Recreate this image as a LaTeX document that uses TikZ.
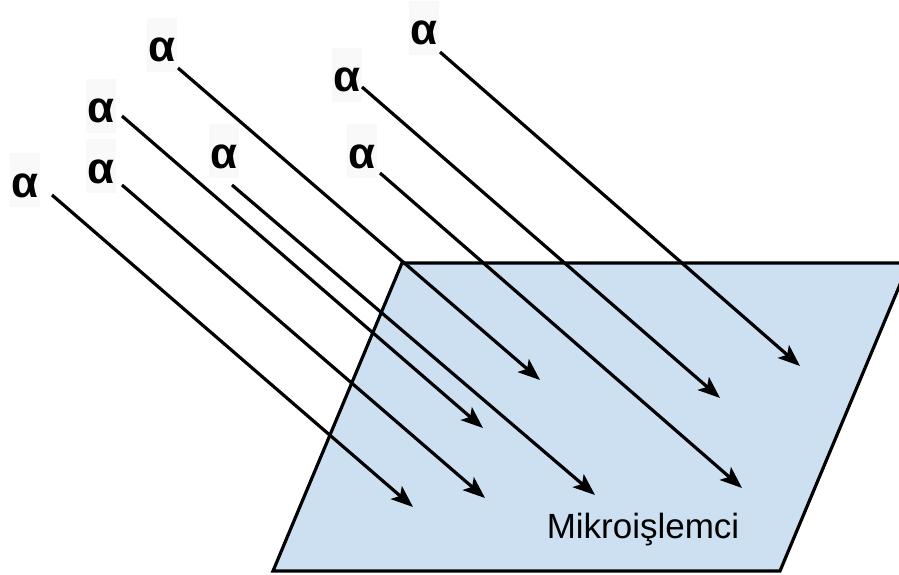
\documentclass[tikz,border=0pt]{standalone}
\usepackage{fontspec}
\setmainfont{Liberation Sans}
\usepackage{tikz}
\usetikzlibrary{arrows.meta}
\definecolor{chipblue}{RGB}{204,224,242}
\definecolor{lblgray}{RGB}{249,249,249}
\tikzset{
  alphalabel/.style={fill=lblgray, inner ysep=0pt, inner xsep=1pt,
    text height=44pt, text depth=10pt, anchor=base,
    font=\fontsize{44}{48}\selectfont\bfseries},
  ray/.style={-{Stealth[length=22pt, width=17pt, inset=5pt]}, line width=3.2pt, color=black},
  chip/.style={draw=black, fill=chipblue, line width=3.2pt, line join=miter}
}

\begin{document}
\begin{tikzpicture}[x=1pt, y=-1pt]
  \useasboundingbox (0,0) rectangle (899,575);

  % Chip surface
  \draw[chip] (402,263) -- (909,263) -- (780,571) -- (273,571) -- cycle;
  \node[anchor=base, font=\fontsize{35}{40}\selectfont] (chipname) at (643,538) {Mikroişlemci};

  % Labels
  \node[alphalabel] (a1) at (25,197) {α};
  \node[alphalabel] (a2) at (101,183) {α};
  \node[alphalabel] (a3) at (101,123) {α};
  \node[alphalabel] (a4) at (162,62) {α};
  \node[alphalabel] (a5) at (224,168) {α};
  \node[alphalabel] (a6) at (347,92) {α};
  \node[alphalabel] (a7) at (362,168) {α};
  \node[alphalabel] (a8) at (424,45) {α};

  % Ray ends
  \coordinate (s1) at (52,195);  \coordinate (t1) at (413,507);
  \coordinate (s2) at (122,185); \coordinate (t2) at (485,498);
  \coordinate (s3) at (122,116); \coordinate (t3) at (483,428);
  \coordinate (s4) at (178,68);  \coordinate (t4) at (540,380);
  \coordinate (s5) at (232,185); \coordinate (t5) at (595,495);
  \coordinate (s6) at (362,87);  \coordinate (t6) at (720,398);
  \coordinate (s7) at (380,173); \coordinate (t7) at (742,488);
  \coordinate (s8) at (440,52);  \coordinate (t8) at (800,366);

  % Rays
  \draw[ray] (s1) -- (t1);
  \draw[ray] (s2) -- (t2);
  \draw[ray] (s3) -- (t3);
  \draw[ray] (s4) -- (t4);
  \draw[ray] (s5) -- (t5);
  \draw[ray] (s6) -- (t6);
  \draw[ray] (s7) -- (t7);
  \draw[ray] (s8) -- (t8);
\end{tikzpicture}
\end{document}
